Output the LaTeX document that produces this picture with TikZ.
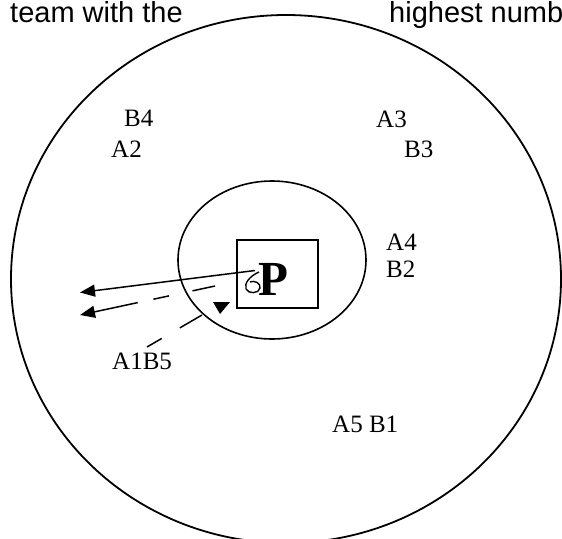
\documentclass[tikz,border=0pt]{standalone}
\usepackage{fontspec}
\setmainfont{Liberation Serif}
\newfontfamily\arialfont{Liberation Sans}
\usetikzlibrary{arrows.meta}
\begin{document}
\begin{tikzpicture}[x=1pt,y=-1pt,
  lbl/.style={anchor=base west, inner sep=0pt, font=\fontsize{25}{25}\selectfont},
  toptxt/.style={anchor=base west, inner sep=0pt, font=\arialfont\fontsize{29}{29}\selectfont},
  ring/.style={draw=black, line width=1.6pt},
  arr/.style={line width=1.5pt, -{Triangle[length=15pt,width=12pt]}},
  darr/.style={arr, dash pattern=on 23pt off 24pt on 16pt off 16pt on 90pt},
  dline/.style={line width=1.5pt, dash pattern=on 17pt off 21pt on 30pt}
]
\useasboundingbox (0,0) rectangle (562,538);
\clip (0,0) rectangle (562,538);
% rings
\draw[ring, line width=1.8pt] (286,279) ellipse [x radius=275, y radius=264];
\draw[ring] (272,260) ellipse [x radius=94, y radius=79];
% box with P
\node (box) [draw, line width=1.5pt, minimum width=81pt, minimum height=68pt, inner sep=0pt] at (277.5,274) {};
\node (P) [anchor=base, inner sep=0pt, font=\bfseries\fontsize{49}{49}\selectfont] at (273.5,295) {P};
% top texts
\node (t1) [toptxt] at (10,22) {team with the};
\node (t2) [toptxt] at (389,22) {highest numb};
% labels
\node (B4) [lbl] at (124,126) {B4};
\node (A2) [lbl] at (111,157) {A2};
\node (A3) [lbl] at (376,127) {A3};
\node (B3) [lbl] at (404,157) {B3};
\node (A4) [lbl] at (386,250) {A4};
\node (B2) [lbl] at (386,277) {B2};
\node (A1B5) [lbl] at (112,369) {A1B5};
\node (A5B1) [lbl] at (332,432) {A5 B1};
% arrows
\coordinate (s1) at (255,270.5);
\coordinate (e1) at (80,292.5);
\coordinate (s2) at (215,286);
\coordinate (e2) at (80,315);
\coordinate (s3) at (147,347);
\coordinate (e3) at (202,315);
\draw[arr] (s1) -- (e1);
\draw[line width=1.4pt] (259,272) .. controls (250,276) and (244,283) .. (246,289)
  .. controls (248,294) and (259,294) .. (260,288)
  .. controls (261,283) and (254,280) .. (250,282);
\draw[darr] (s2) -- (e2);
\draw[dline] (s3) -- (e3);
\fill (213,302) -- (230,302) -- (220,314) -- cycle;
\end{tikzpicture}
\end{document}
